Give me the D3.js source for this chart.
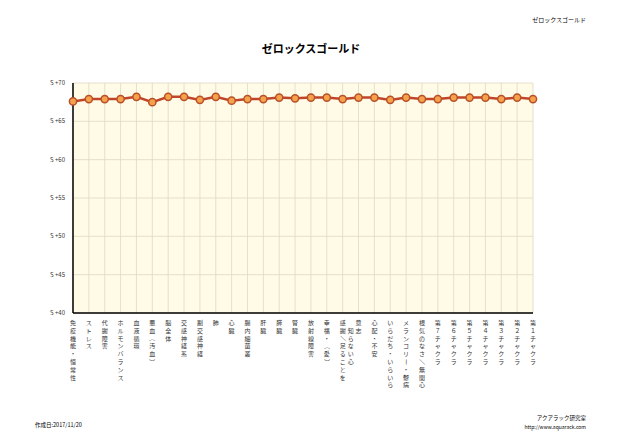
<!DOCTYPE html>
<html><head><meta charset="utf-8">
<script src="https://cdn.jsdelivr.net/npm/d3@7"></script>
<style>body{margin:0;background:#fff;font-family:"Noto Sans CJK JP",sans-serif;}</style>
</head><body><div id="chart"></div>
<script>
const categories = ["免疫機能・恒常性","ストレス","代謝障害","ホルモンバランス","血液循環","悪血（汚血）","脳全体","交感神経系","副交感神経","肺","心臓","腸内細菌叢","肝臓","膵臓","腎臓","放射線障害","幸福・（愛）","感謝／足ることを|知らない心","意志","心配・不安","いらだち・いらいら","メランコリー・鬱病","根気のなさ／無関心","第７チャクラ","第６チャクラ","第５チャクラ","第４チャクラ","第３チャクラ","第２チャクラ","第１チャクラ"];
const values = [67.6,67.9,67.9,67.9,68.2,67.5,68.2,68.2,67.8,68.2,67.7,67.9,67.9,68.1,68.0,68.1,68.1,67.9,68.1,68.1,67.8,68.1,67.9,67.9,68.1,68.1,68.1,67.9,68.1,67.9];
const yTicks = [40,45,50,55,60,65,70];

const width = 624, height = 446;
const margin = {top: 83, right: 91, bottom: 133, left: 73};

const svg = d3.select("#chart").append("svg").attr("width", width).attr("height", height);

const x = d3.scalePoint().domain(categories).range([margin.left, width - margin.right]);
const y = d3.scaleLinear().domain([40, 70]).range([height - margin.bottom, margin.top]);

svg.append("rect")
  .attr("x", margin.left).attr("y", margin.top)
  .attr("width", width - margin.right - margin.left)
  .attr("height", height - margin.bottom - margin.top)
  .attr("fill", "#fffbe6");

// grid
svg.append("g").selectAll("line").data(categories).join("line")
  .attr("x1", d => x(d)).attr("x2", d => x(d))
  .attr("y1", margin.top).attr("y2", height - margin.bottom)
  .attr("stroke", "#ddd9c4").attr("stroke-width", 0.8);
svg.append("g").selectAll("line").data(yTicks).join("line")
  .attr("x1", margin.left).attr("x2", width - margin.right)
  .attr("y1", d => y(d)).attr("y2", d => y(d))
  .attr("stroke", "#ddd9c4").attr("stroke-width", 0.8);

// axes
svg.append("line").attr("x1", margin.left).attr("x2", margin.left)
  .attr("y1", margin.top).attr("y2", height - margin.bottom).attr("stroke", "#000").attr("stroke-width", 1.5);
svg.append("line").attr("x1", margin.left).attr("x2", width - margin.right)
  .attr("y1", height - margin.bottom).attr("y2", height - margin.bottom).attr("stroke", "#000").attr("stroke-width", 1.5);

svg.append("g").selectAll("text").data(yTicks).join("text")
  .attr("x", margin.left - 8).attr("y", d => y(d) + 2)
  .attr("text-anchor", "end").style("font-size", "6px").attr("fill", "#333")
  .text(d => "S +" + d);

// vertical category labels, one character per line
const lab = svg.append("g").selectAll("g").data(categories).join("g")
  .attr("transform", d => `translate(${x(d)},${height - margin.bottom + 6})`);
lab.each(function(d) {
  const g = d3.select(this);
  d.split("|").forEach((part, ci) => {
    Array.from(part).forEach((ch, i) => {
      const rot = "ー／（）".includes(ch);
      const ty = 6 + (i + ci) * 7.8;
      g.append("text")
        .attr("transform", rot ? `translate(${ci * 8},${ty - 2}) rotate(90)` : `translate(${ci * 8},${ty})`)
        .attr("text-anchor", "middle").attr("dy", rot ? "0.35em" : null)
        .style("font-size", "6px").attr("fill", "#333")
        .text(ch);
    });
  });
});

// line + points
svg.append("path").datum(values)
  .attr("fill", "none").attr("stroke", "#c0452a").attr("stroke-width", 2.5)
  .attr("d", d3.line().x((d, i) => x(categories[i])).y(d => y(d)));
svg.append("g").selectAll("circle").data(values).join("circle")
  .attr("cx", (d, i) => x(categories[i])).attr("cy", d => y(d)).attr("r", 3.6)
  .attr("fill", "#f5a24a").attr("stroke", "#b8502a").attr("stroke-width", 1.5);

// texts
svg.append("text").attr("x", 311).attr("y", 53).attr("text-anchor", "middle")
  .style("font-size", "11px").style("font-weight", "bold").text("ゼロックスゴールド");
svg.append("text").attr("x", 586).attr("y", 22).attr("text-anchor", "end")
  .style("font-size", "6px").text("ゼロックスゴールド");
svg.append("text").attr("x", 35).attr("y", 427).style("font-size", "5.5px").text("作成日:2017/11/20");
svg.append("text").attr("x", 586).attr("y", 420).attr("text-anchor", "end").style("font-size", "5.5px").text("アクアラック研究室");
svg.append("text").attr("x", 586).attr("y", 429).attr("text-anchor", "end").style("font-size", "5px").text("http://www.aquarack.com");
</script></body></html>
